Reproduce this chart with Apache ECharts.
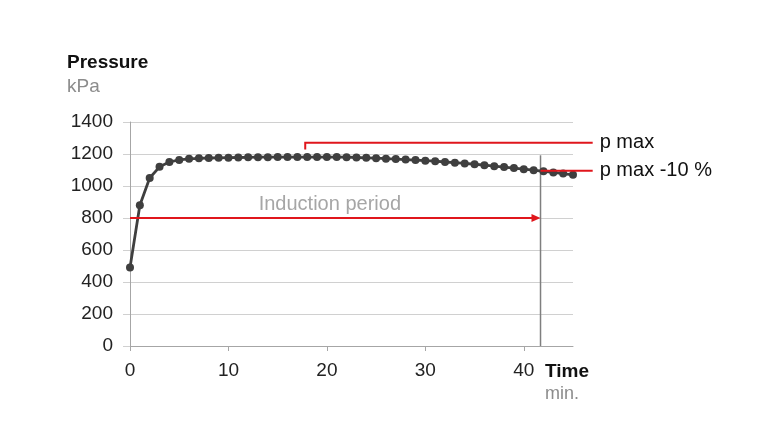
<!DOCTYPE html>
<html>
<head>
<meta charset="utf-8">
<script src="https://cdn.jsdelivr.net/npm/echarts@6/dist/echarts.min.js"></script>
<style>
	html, body { margin: 0; padding: 0; background: #fff; }
	#main { width: 768px; height: 432px; }
</style>
</head>
<body>
<div id="main"></div>
<script>
// minutes
var times = [0, 1, 2, 3, 4, 5, 6, 7, 8, 9, 10, 11, 12, 13, 14, 15, 16, 17, 18, 19, 20, 21, 22,
	23, 24, 25, 26, 27, 28, 29, 30, 31, 32, 33, 34, 35, 36, 37, 38, 39, 40, 41, 42, 43, 44, 45];
// kPa
var pressure = [490, 880, 1050, 1120, 1150, 1163, 1170, 1173, 1175, 1176, 1177, 1178, 1179, 1180, 1180, 1181, 1181, 1181, 1181, 1181, 1181, 1181, 1180,
	1178, 1176, 1174, 1171, 1168, 1165, 1162, 1158, 1155, 1150, 1146, 1141, 1136, 1130, 1124, 1118, 1112, 1105, 1099, 1092, 1085, 1078, 1070];
var yTicks = [0, 200, 400, 600, 800, 1000, 1200, 1400];
var xTicks = [0, 10, 20, 30, 40];

// annotation values (data units)
var pMaxStart = 17.8;
var pMaxLevel = 1270;
var pMaxFoot = 1228;
var labelEnd = 47.0;
var inductionEnd = 41.7;
var inductionLevel = 800;
var pMax10Level = 1095;
var endLineTop = 1192;
var inductionText = [20.3, 885];

var myChart = echarts.init(document.getElementById('main'));

var points = times.map(function(t, i) { return [t, pressure[i]]; });

var option = {
	animation: false,
	grid: { left: 130, right: 195, top: 122, bottom: 86 },
	xAxis: {
		type: 'value',
		min: 0,
		max: 45,
		interval: 10,
		axisLine: { lineStyle: { color: '#a6a6a6', width: 1 } },
		axisTick: { show: true, length: 5, lineStyle: { color: '#a6a6a6' } },
		splitLine: { show: false },
		axisLabel: {
			color: '#222',
			fontFamily: 'Liberation Sans',
			fontSize: 19,
			margin: 15,
			showMaxLabel: false,
			formatter: function(v) { return xTicks.indexOf(v) >= 0 ? v : ''; }
		}
	},
	yAxis: {
		type: 'value',
		min: 0,
		max: 1400,
		interval: 200,
		axisLine: { show: true, lineStyle: { color: '#a6a6a6', width: 1 } },
		axisTick: { show: true, length: 7, lineStyle: { color: '#d0d0d0' } },
		splitLine: { lineStyle: { color: '#d0d0d0', width: 1 } },
		axisLabel: {
			color: '#222',
			fontFamily: 'Liberation Sans',
			fontSize: 19,
			margin: 17,
			formatter: function(v) { return yTicks.indexOf(v) >= 0 ? v : ''; }
		}
	},
	series: [{
		type: 'line',
		data: points,
		symbol: 'circle',
		symbolSize: 8,
		showAllSymbol: true,
		lineStyle: { color: '#3f3f3f', width: 2.8 },
		itemStyle: { color: '#3f3f3f' },
		z: 3
	}]
};
myChart.setOption(option);

function px(x, y) {
	return myChart.convertToPixel({ gridIndex: 0 }, [x, y]);
}

var a = px(pMaxStart, pMaxFoot), b = px(pMaxStart, pMaxLevel), c = px(labelEnd, pMaxLevel);
var d = px(inductionEnd, pMax10Level), e = px(labelEnd, pMax10Level);
var f = px(inductionEnd, endLineTop), g = px(inductionEnd, 0);
var h = px(0, inductionLevel), k = px(inductionEnd, inductionLevel);
var t = px(inductionText[0], inductionText[1]);
var red = '#e0161c';

myChart.setOption({
	graphic: [
		{ type: 'text', left: 67, top: 53, style: { text: 'Pressure', fontFamily: 'Liberation Sans', fontWeight: 'bold', fontSize: 19, fill: '#111' } },
		{ type: 'text', left: 67, top: 77, style: { text: 'kPa', fontFamily: 'Liberation Sans', fontSize: 19, fill: '#8c8c8c' } },
		{ type: 'text', left: 545, top: 362, style: { text: 'Time', fontFamily: 'Liberation Sans', fontWeight: 'bold', fontSize: 19, fill: '#111' } },
		{ type: 'text', left: 545, top: 385, style: { text: 'min.', fontFamily: 'Liberation Sans', fontSize: 18, fill: '#8c8c8c' } },
		{ type: 'line', z: 2, shape: { x1: f[0], y1: f[1], x2: g[0], y2: g[1] }, style: { stroke: '#7f7f7f', lineWidth: 1.5 } },
		{ type: 'polyline', z: 5, shape: { points: [a, b, c] }, style: { stroke: red, lineWidth: 2, fill: null } },
		{ type: 'line', z: 5, shape: { x1: d[0], y1: d[1], x2: e[0], y2: e[1] }, style: { stroke: red, lineWidth: 2 } },
		{ type: 'line', z: 5, shape: { x1: h[0], y1: h[1], x2: k[0] - 7, y2: k[1] }, style: { stroke: red, lineWidth: 2 } },
		{ type: 'polygon', z: 5, shape: { points: [[k[0], k[1]], [k[0] - 9, k[1] - 4], [k[0] - 9, k[1] + 4]] }, style: { fill: red } },
		{ type: 'text', z: 5, x: c[0] + 7, y: c[1], style: { text: 'p max', fontFamily: 'Liberation Sans', fontSize: 20, fill: '#111', verticalAlign: 'middle' } },
		{ type: 'text', z: 5, x: e[0] + 7, y: e[1], style: { text: 'p max -10 %', fontFamily: 'Liberation Sans', fontSize: 20, fill: '#111', verticalAlign: 'middle' } },
		{ type: 'text', z: 5, x: t[0], y: t[1], style: { text: 'Induction period', fontFamily: 'Liberation Sans', fontSize: 20, fill: '#a6a6a6', align: 'center', verticalAlign: 'middle' } }
	]
});
</script>
</body>
</html>
